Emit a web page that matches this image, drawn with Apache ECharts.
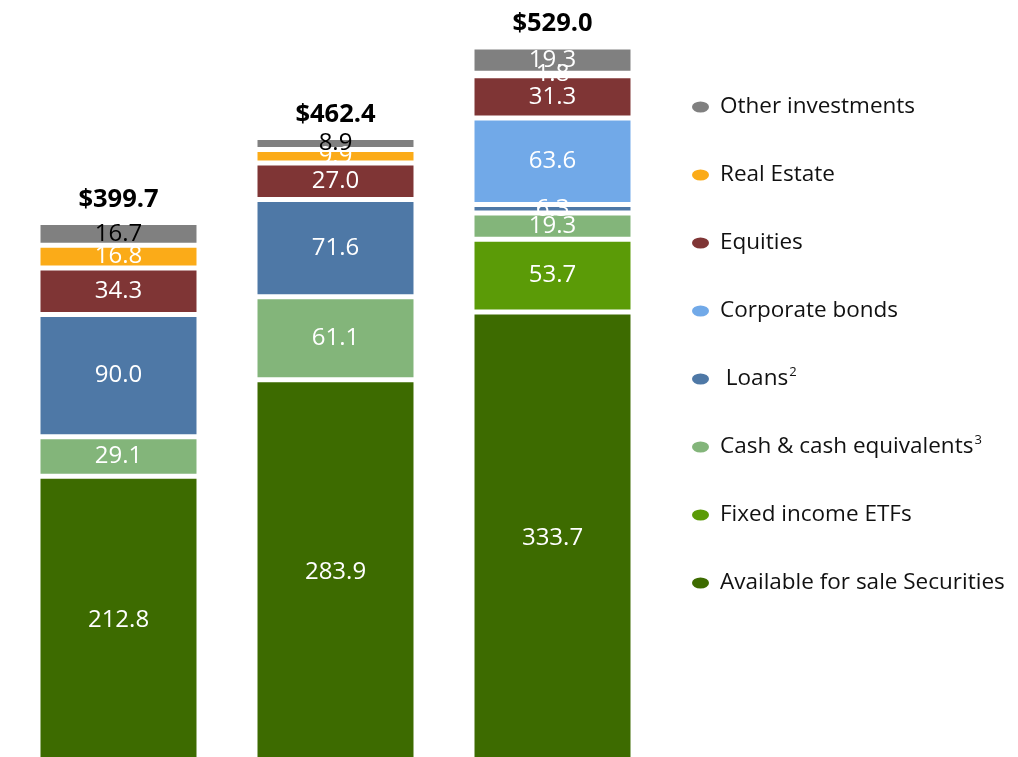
<!DOCTYPE html>
<html>
<head>
<meta charset="utf-8">
<script src="https://cdn.jsdelivr.net/npm/echarts@6/dist/echarts.min.js"></script>
<style>
  html, body { margin: 0; padding: 0; background: #fff; }
  #chart { width: 1018px; height: 757px; }
</style>
</head>
<body>
<div id="chart"></div>
<script>
// 三根柱子（年份在原图中被裁掉了）
const categories = ['Period 1', 'Period 2', 'Period 3'];

// 各资产类别，从下到上堆叠
const afsSecurities = [212.8, 283.9, 333.7];
const fixedIncomeEtfs = [null, null, 53.7];
const cashEquivalents = [29.1, 61.1, 19.3];
const loans = [90.0, 71.6, 6.3];
const corporateBonds = [null, null, 63.6];
const equities = [34.3, 27.0, 31.3];
const realEstate = [16.8, 9.9, 1.8];
const otherInvestments = [16.7, 8.9, 19.3];

// 柱顶总额
const totals = [399.7, 462.4, 529.0];

const font = '"Open Sans", "Noto Sans", sans-serif';

function seg(name, data, color, labelColors) {
  return {
    name: name,
    type: 'bar',
    stack: 'total',
    barWidth: 161,
    data: data.map((v, i) => {
      if (v == null) return null;
      const item = { value: v };
      if (labelColors && labelColors[i]) item.label = { color: labelColors[i] };
      return item;
    }),
    itemStyle: { color: color, borderColor: '#fff', borderWidth: 2.5 },
    label: {
      show: true,
      position: 'inside',
      color: '#fff',
      fontFamily: font,
      fontSize: 24,
      formatter: p => p.value.toFixed(1)
    }
  };
}

const chart = echarts.init(document.getElementById('chart'));
const option = {
  animation: false,
  // 底部基线在画布之外（原图被裁切）
  grid: { left: 10, width: 651, top: 47, bottom: -8, outerBoundsMode: 'none' },
  xAxis: { type: 'category', data: categories, show: false },
  yAxis: { type: 'value', min: 0, max: 529, show: false },
  legend: {
    orient: 'vertical',
    left: 687,
    top: 89,
    itemWidth: 17,
    itemHeight: 11,
    itemGap: 42,
    icon: 'path://M0,5.5 A8.5,5.5 0 1,0 17,5.5 A8.5,5.5 0 1,0 0,5.5 Z',
    itemStyle: { borderWidth: 0 },
    data: ['Other investments', 'Real Estate', 'Equities', 'Corporate bonds',
      'Loans', 'Cash & cash equivalents', 'Fixed income ETFs', 'Available for sale Securities'],
    formatter: name => {
      if (name === 'Loans') return ' Loans{sup|2}';
      if (name === 'Cash & cash equivalents') return 'Cash & cash equivalents{sup|3}';
      return name;
    },
    textStyle: {
      fontFamily: font,
      fontSize: 22.5,
      color: '#111',
      lineHeight: 26,
      padding: [0, 0, 0, 6],
      rich: {
        sup: { fontFamily: font, fontSize: 13, lineHeight: 26, verticalAlign: 'top', color: '#111', padding: [0, 0, 0, 1] }
      }
    }
  },
  series: [
    seg('Available for sale Securities', afsSecurities, '#3d6b00'),
    seg('Fixed income ETFs', fixedIncomeEtfs, '#5b9b07'),
    seg('Cash & cash equivalents', cashEquivalents, '#83b57a'),
    seg('Loans', loans, '#4e78a6'),
    seg('Corporate bonds', corporateBonds, '#71a9e8'),
    seg('Equities', equities, '#7f3535'),
    seg('Real Estate', realEstate, '#fbab18'),
    seg('Other investments', otherInvestments, '#808080', ['#000', '#000', null]),
    {
      // 总额标签
      name: 'Total',
      type: 'bar',
      stack: 'total',
      barWidth: 161,
      data: totals.map(() => 0),
      itemStyle: { color: 'transparent' },
      label: {
        show: true,
        position: 'top',
        distance: 10,
        color: '#000',
        fontFamily: font,
        fontWeight: 'bold',
        fontSize: 25.5,
        formatter: p => '$' + totals[p.dataIndex].toFixed(1)
      }
    }
  ]
};
chart.setOption(option);
window.addEventListener('resize', () => chart.resize());
</script>
</body>
</html>
